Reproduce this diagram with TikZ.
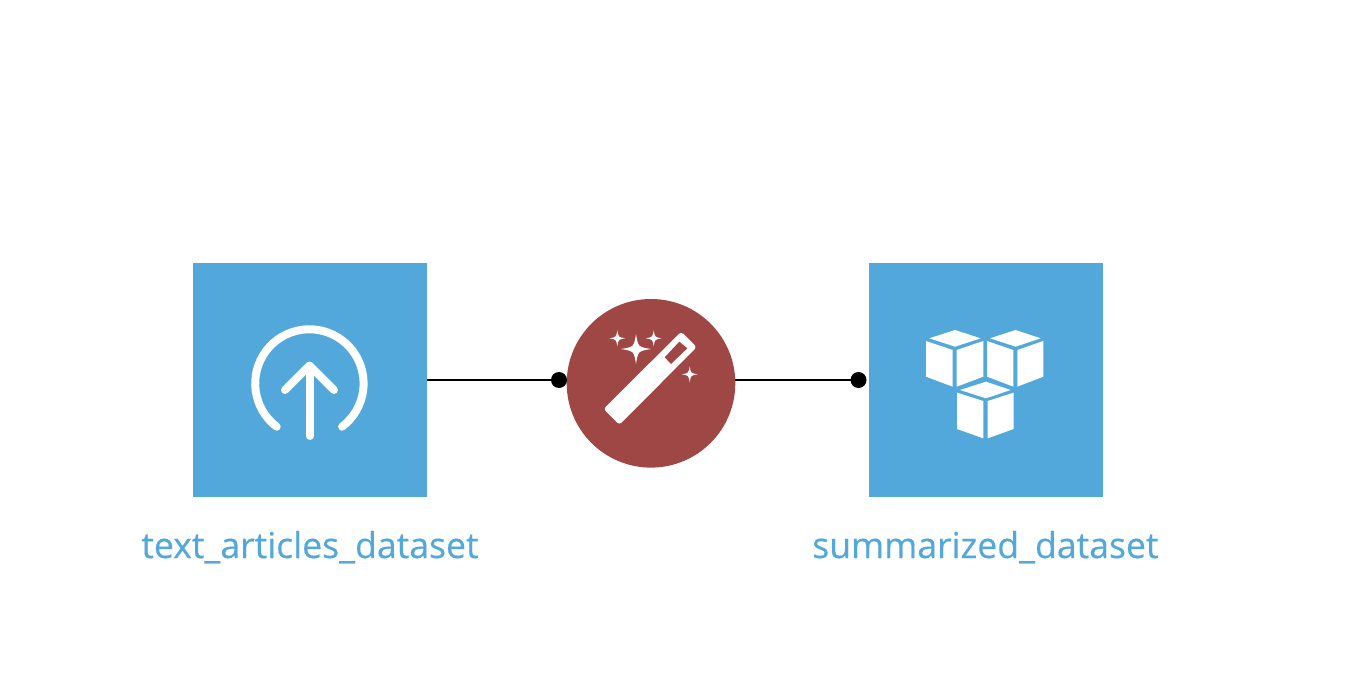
\documentclass[tikz,border=0pt]{standalone}
\usepackage{fontspec}
\setmainfont{Open Sans}
\newfontfamily\dslabelfont[FakeBold=0.35]{Open Sans}
\definecolor{dsblue}{HTML}{53A8DB}
\definecolor{dsred}{HTML}{9E4744}
\tikzset{
  x=1pt,y=1pt,
  dsbox/.style={fill=dsblue,draw=none,minimum size=234pt,inner sep=0pt,outer sep=0pt},
  recipe/.style={circle,fill=dsred,draw=none,minimum size=168.6pt,inner sep=0pt,outer sep=0pt},
  port/.style={circle,fill=black,draw=none,minimum size=16pt,inner sep=0pt,outer sep=0pt},
  link/.style={draw=black,line width=2pt},
  glyph/.style={draw=white,line width=8pt,line cap=round,line join=round},
  cubeface/.style={fill=white,draw=none},
  dslabel/.style={text=dsblue,font=\dslabelfont\fontsize{35.6}{40}\selectfont,anchor=base,inner sep=0pt},
  pics/sparkle/.style={code={
    \fill[white] (0,#1) .. controls (0.14*#1,0.14*#1) .. (#1,0)
      .. controls (0.14*#1,-0.14*#1) .. (0,-#1)
      .. controls (-0.14*#1,-0.14*#1) .. (-#1,0)
      .. controls (-0.14*#1,0.14*#1) .. cycle;
  }}
}
\begin{document}
\begin{tikzpicture}
\useasboundingbox (0,-698) rectangle (1350,0);
\node[dsbox] (source) at (310,-380) {};
\node[dsbox] (target) at (985.5,-380) {};
\node[recipe] (wand) at (651,-383.3) {};
\node[port] (portin) at (559,-380) {};
\node[port] (portout) at (858.5,-380) {};
\draw[link] (source.east) -- (portin);
\draw[link] (wand.east |- portout) -- (portout);
\node[dslabel] (srclabel) at (310,-558) {text\_articles\_dataset};
\node[dslabel] (tgtlabel) at (985.4,-558) {summarized\_dataset};
% upload icon
\draw[glyph] (276.7,-426.7) arc[start angle=232.9,end angle=-52.9,radius=54.2];
\draw[glyph] (309.5,-436) -- (309.5,-366);
\draw[glyph] (285,-390) -- (309.5,-365.5) -- (334,-390);
% wand icon
\fill[white,rounded corners=3pt] (681.2,-331.7) -- (696.7,-347.2) -- (619.3,-424.8) -- (603.5,-409) -- cycle;
\fill[dsred] (679.3,-341.7) -- (687.3,-348.3) -- (671,-364) -- (664.7,-357.3) -- cycle;
\pic at (636,-349) {sparkle=15};
\pic at (617.3,-338.3) {sparkle=8};
\pic at (653.7,-338.3) {sparkle=8};
\pic at (689.7,-374.3) {sparkle=8};
% cubes icon
\begin{scope}[shift={(910,-315)},x=0.3333pt,y=-0.3333pt]
\fill[cubeface] (135,45) -- (212,70) -- (135,95) -- (58,70) -- cycle;
\fill[cubeface] (48,78) -- (128,105) -- (128,215) -- (48,185) -- cycle;
\fill[cubeface] (140,105) -- (220,78) -- (220,185) -- (140,215) -- cycle;
\fill[cubeface] (317,45) -- (392,70) -- (317,95) -- (240,70) -- cycle;
\fill[cubeface] (231,78) -- (310,105) -- (310,215) -- (231,185) -- cycle;
\fill[cubeface] (322,105) -- (400,78) -- (400,185) -- (322,215) -- cycle;
\fill[cubeface] (228,200) -- (302,225) -- (228,250) -- (150,225) -- cycle;
\fill[cubeface] (141,233) -- (220,258) -- (220,370) -- (141,342) -- cycle;
\fill[cubeface] (233,258) -- (311,233) -- (311,342) -- (233,370) -- cycle;
\end{scope}
\end{tikzpicture}
\end{document}
